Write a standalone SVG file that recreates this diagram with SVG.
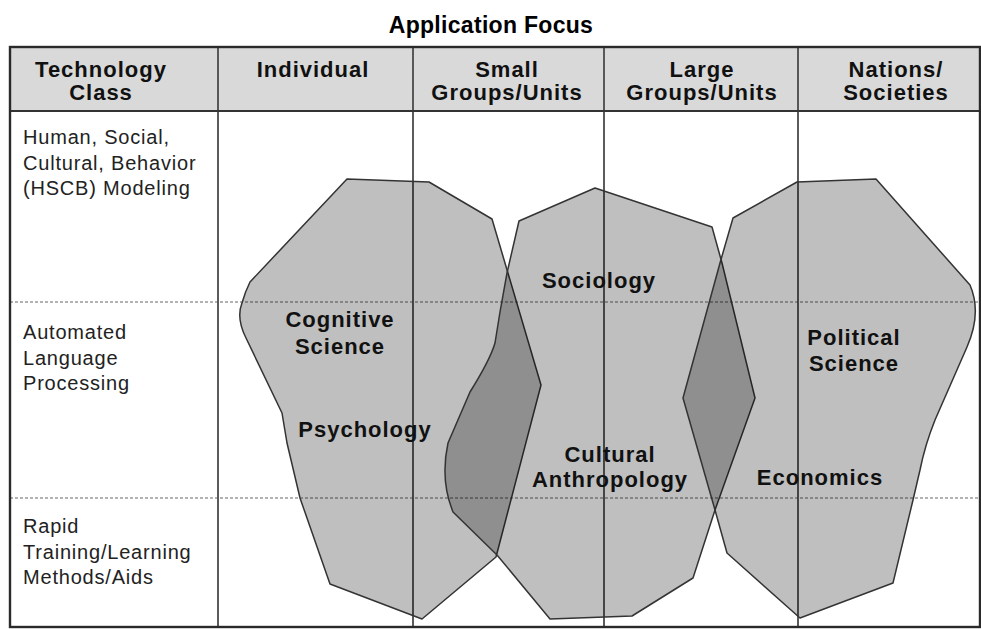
<svg xmlns="http://www.w3.org/2000/svg" width="981" height="629" viewBox="0 0 981 629">
<style>
.title{font-family:"Liberation Sans",Arial,sans-serif;font-weight:bold;font-size:23px;fill:#000;text-anchor:middle;letter-spacing:0.3px}
.hdr{font-family:"Liberation Sans",Arial,sans-serif;font-weight:bold;font-size:22px;fill:#111;text-anchor:middle;letter-spacing:1px}
.row{font-family:"Liberation Sans",Arial,sans-serif;font-size:20px;fill:#222;letter-spacing:0.8px}
.lbl{font-family:"Liberation Sans",Arial,sans-serif;font-weight:bold;font-size:22px;fill:#111;text-anchor:middle;letter-spacing:1px}
.vline{stroke:#4a4a4a;stroke-width:1.8;fill:none}
.dot{stroke:#666;stroke-width:1.2;stroke-dasharray:3 2;fill:none}
.blob{fill:#000;fill-opacity:0.25;stroke:#333;stroke-width:1.5;stroke-linejoin:round}
</style>
<rect width="981" height="629" fill="#fff"/>
<text class="title" x="491" y="33">Application Focus</text>
<g id="table">
<rect x="10" y="47" width="970" height="64" fill="#d9d9d9"/>
<line class="dot" x1="10" y1="302" x2="980" y2="302"/>
<line class="dot" x1="10" y1="498" x2="980" y2="498"/>
<line class="vline" x1="218" y1="47" x2="218" y2="627"/>
<line class="vline" x1="413" y1="47" x2="413" y2="627"/>
<line class="vline" x1="604" y1="47" x2="604" y2="627"/>
<line class="vline" x1="798" y1="47" x2="798" y2="627"/>
<line x1="10" y1="111" x2="980" y2="111" stroke="#333" stroke-width="2.2"/>
<rect x="10" y="47" width="970" height="580" fill="none" stroke="#2a2a2a" stroke-width="2.4"/>
<text class="hdr" x="101" y="77">Technology</text>
<text class="hdr" x="101" y="100">Class</text>
<text class="hdr" x="313" y="77">Individual</text>
<text class="hdr" x="507" y="77">Small</text>
<text class="hdr" x="507" y="100">Groups/Units</text>
<text class="hdr" x="702" y="77">Large</text>
<text class="hdr" x="702" y="100">Groups/Units</text>
<text class="hdr" x="896" y="77">Nations/</text>
<text class="hdr" x="896" y="100">Societies</text>
<text class="row" x="23" y="144">Human, Social,</text>
<text class="row" x="23" y="169.5">Cultural, Behavior</text>
<text class="row" x="23" y="195">(HSCB) Modeling</text>
<text class="row" x="23" y="339">Automated</text>
<text class="row" x="23" y="364.5">Language</text>
<text class="row" x="23" y="390">Processing</text>
<text class="row" x="23" y="533">Rapid</text>
<text class="row" x="23" y="558.5">Training/Learning</text>
<text class="row" x="23" y="584">Methods/Aids</text>
</g>
<g id="individual-blob">
<path class="blob" d="M347,179 L429,182 L492,219 L541,385 L496,557 L422,619 L330,584 L300,498 L287,443 L282,413 L246,338 Q236,318 242,303 Q245,292 250,282 Z"/>
</g>
<g id="group-blob">
<path class="blob" d="M595,188 L712,227 L722,263 L755,398 L715,510 L693,578 L632,616 L550,619 L497,555 L453,512 Q440,480 448,443 L470,392 Q490,360 495,343 L500,312 L507,273 L519,221 Z"/>
</g>
<g id="nation-blob">
<path class="blob" d="M733,218 L797,182 L876,179 L970,285 Q982,313 967,347 L935,420 Q925,445 920,470 L913,500 L893,583 L800,618 L727,553 L715,510 L683,398 L720,263 Z"/>
</g>
<g id="labels">
<text class="lbl" x="340" y="327">Cognitive</text>
<text class="lbl" x="340" y="354">Science</text>
<text class="lbl" x="365" y="437">Psychology</text>
<text class="lbl" x="599" y="288">Sociology</text>
<text class="lbl" x="610" y="462">Cultural</text>
<text class="lbl" x="610" y="487">Anthropology</text>
<text class="lbl" x="854" y="345">Political</text>
<text class="lbl" x="854" y="371">Science</text>
<text class="lbl" x="820" y="485">Economics</text>
</g>
</svg>
